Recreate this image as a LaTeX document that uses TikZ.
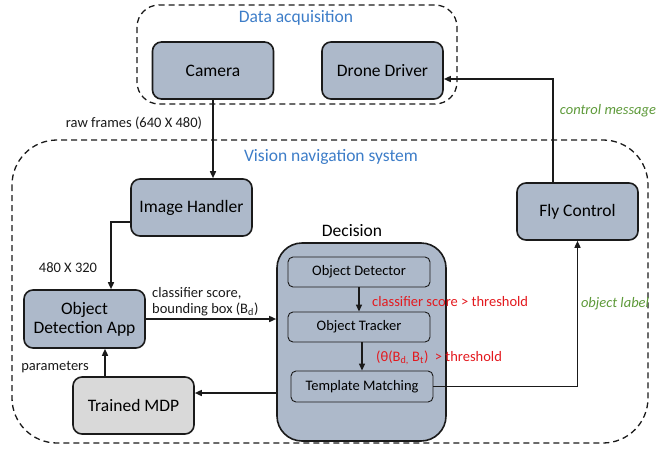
\documentclass[tikz,border=0pt]{standalone}
\usepackage{fontspec}
\setmainfont{Carlito}
\usetikzlibrary{arrows.meta}
\definecolor{boxfill}{HTML}{ADB9CA}
\definecolor{mdpfill}{HTML}{D9D9D9}
\definecolor{titleblue}{HTML}{3D7DC8}
\definecolor{redlbl}{HTML}{E3191E}
\definecolor{greenlbl}{HTML}{5E9A3A}
\definecolor{edge}{HTML}{1A1A1A}
\tikzset{
  bigfont/.style={font=\fontsize{17.5}{20}\selectfont},
  smallfont/.style={font=\fontsize{14.5}{17}\selectfont},
  mainbox/.style={draw=edge, line width=1.6pt, fill=boxfill, rounded corners=9pt,
    minimum width=121pt, minimum height=57pt, inner sep=2pt, align=center, bigfont},
  innerbox/.style={draw=edge, line width=0.9pt, fill=boxfill, rounded corners=5pt,
    minimum width=142pt, minimum height=30pt, inner sep=1pt, smallfont},
  group/.style={draw=edge, line width=1.3pt, dash pattern=on 6pt off 4pt},
  conn/.style={draw=edge, line width=1.5pt, -{Triangle[length=7pt,width=6pt]}},
  lbl/.style={smallfont, inner sep=0pt, text=edge},
  redtxt/.style={smallfont, inner sep=0pt, text=redlbl},
  greentxt/.style={font=\fontsize{14.5}{17}\selectfont\itshape, inner sep=0pt, text=greenlbl},
  titletxt/.style={bigfont, inner sep=0pt, text=titleblue}
}
\begin{document}
\begin{tikzpicture}[x=1pt,y=-1pt]
\useasboundingbox (0,0) rectangle (659,450);
% group frames
\draw[group, rounded corners=22pt] (137,5) rectangle (457,104);
\draw[group, rounded corners=45pt] (12,140) rectangle (648,443);
\node[titletxt] (tda) at (296,18) {Data acquisition};
\node[titletxt] (tvn) at (331,157) {Vision navigation system};

% main boxes
\node[mainbox] (cam) at (213,70.5) {Camera};
\node[mainbox] (dd) at (382.5,70.5) {Drone Driver};
\node[mainbox] (ih) at (191.5,207.5) {Image Handler};
\node[mainbox, minimum height=58pt] (oda) at (84.5,319) {Object\\[-1pt]Detection App};
\node[mainbox, fill=mdpfill] (mdp) at (133.5,405.5) {Trained MDP};
\node[mainbox] (fc) at (577.5,211.5) {Fly Control};

% decision
\node[draw=edge, line width=1.6pt, fill=boxfill, rounded corners=25pt,
  minimum width=169pt, minimum height=198pt] (dec) at (361.5,342) {};
\node[bigfont, inner sep=0pt] (dect) at (352,231) {Decision};
\node[innerbox] (od) at (359,272) {Object Detector};
\node[innerbox] (ot) at (359,327) {Object Tracker};
\node[innerbox, minimum height=31pt] (tm) at (362,386.5) {Template Matching};

% connectors
\draw[conn] (cam.south) -- (cam.south |- ih.north);
\draw[conn] ([yshift=-14.5pt]ih.west) -| ([xshift=26.5pt]oda.north);
\draw[conn] (oda.east) -- (oda.east -| dec.west);
\draw[conn] ([yshift=-51pt]dec.west) -- ([yshift=-51pt]dec.west -| mdp.east);
\draw[conn] ([xshift=-28.5pt]mdp.north) -- ([xshift=-28.5pt]mdp.north |- oda.south);
\draw[conn] (od.south) -- (od.south |- ot.north);
\draw[conn] ([xshift=3pt]ot.south) -- ([xshift=3pt]ot.south |- tm.north);
\draw[conn] (tm.east) -| (fc.south);
\draw[conn] ([xshift=-24.5pt]fc.north) |- ([yshift=-8.5pt]dd.east);

% labels
\node[lbl] (l1) at (134,123) {raw frames (640 X 480)};
\node[lbl] (l2) at (68,268) {480 X 320};
\node[lbl, anchor=north west, align=left] (l3) at (152,287) {classifier score,\\[-1pt]bounding box (B\textsubscript{d})};
\node[lbl] (l4) at (55,367) {parameters};
\node[redtxt, anchor=west] (r1) at (372,302) {classifier score > threshold};
\node[redtxt, anchor=west] (r2) at (376,358) {(θ(B\textsubscript{d,} B\textsubscript{t})\ \ > threshold};
\node[greentxt] (g1) at (615,304) {object label};
\node[greentxt] (g2) at (608,111) {control message};
\end{tikzpicture}
\end{document}
